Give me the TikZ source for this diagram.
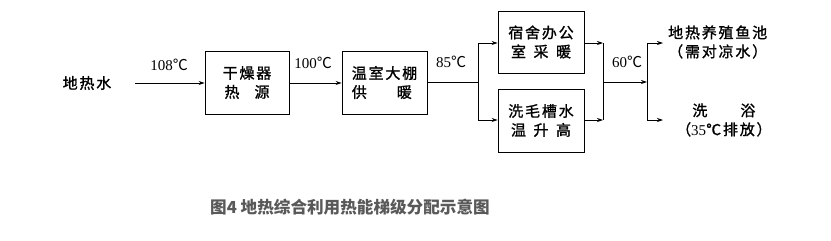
\documentclass[tikz,border=0pt]{standalone}
\usepackage{fontspec}
\setmainfont{Liberation Serif}
\newfontfamily\cjk[LetterSpace=12,FakeBold=1.2]{Noto Sans CJK SC}
\newfontfamily\cjkcap{Noto Sans CJK SC}
\usetikzlibrary{arrows.meta}
\begin{document}
\begin{tikzpicture}[x=1pt,y=-1pt,
  box/.style={draw,line width=0.9pt,minimum width=#1,minimum height=62pt,inner sep=0pt,align=center,font=\cjk\fontsize{15}{19}\selectfont},
  lab/.style={font=\cjk\fontsize{15}{19}\selectfont,align=center,inner sep=0pt},
  temp/.style={font=\fontsize{15}{18}\selectfont,inner sep=0pt},
  ln/.style={line width=0.8pt},
  arr/.style={ln,-{Stealth[length=6pt,width=4pt]}}]
\useasboundingbox (0,0) rectangle (831,241);
\node[lab] (src) at (87,83) {地热水};
\node[box=84pt,minimum height=63pt] (b1) at (247,82.5) {干燥器\\\makebox[3em][s]{热\hfill 源}};
\node[box=85pt,minimum height=63pt,align=left] (b2) at (384.5,82.5) {温室大棚\\\makebox[4em][s]{供\hfill 暖}};
\node[box=86pt] (b3) at (541,42) {宿舍办公\\\makebox[4em][s]{室\hfill 采\hfill 暖}};
\node[box=86pt,minimum height=63pt] (b4) at (541,120.5) {洗毛槽水\\\makebox[4em][s]{温\hfill 升\hfill 高}};
\coordinate (s1) at (478,82);
\coordinate (s1t) at (478,43);
\coordinate (s1b) at (478,120);
\coordinate (m1t) at (603,43);
\coordinate (m1b) at (603,120);
\coordinate (m1) at (603,82);
\coordinate (s2) at (647,82);
\coordinate (s2t) at (647,43);
\coordinate (s2b) at (647,120);
\coordinate (e1) at (663,43);
\coordinate (e2) at (663,120);
\node[lab,anchor=west] (o1) at (668,42) {地热养殖鱼池\\（需对凉水）};
\node[lab,anchor=west] (o2) at (676,120) {\makebox[4.2em][s]{洗\hfill 浴}\\（{\fontsize{15}{18}\fontspec{Liberation Serif}35}℃排放）};
\node[temp] (t1) at (169,65) {108{\cjkcap ℃}};
\node[temp] (t2) at (313,63) {100{\cjkcap ℃}};
\node[temp] (t3) at (451,62) {85{\cjkcap ℃}};
\node[temp] (t4) at (627,62) {60{\cjkcap ℃}};
\draw[arr] (135,83) -- (b1.west |- 0,83);
\draw[arr] (b1.east |- 0,83) -- (b2.west |- 0,83);
\draw[ln] (b2.east |- s1) -- (s1);
\draw[ln] (s1t) -- (s1b);
\draw[arr] (s1t) -- (b3.west |- s1t);
\draw[arr] (s1b) -- (b4.west |- s1b);
\draw[arr] (b3.east |- m1t) -- (m1t);
\draw[arr] (b4.east |- m1b) -- (m1b);
\draw[ln] (m1t) -- (m1b);
\draw[arr] (m1) -- (s2);
\draw[ln] (s2t) -- (s2b);
\draw[arr] (s2t) -- (e1);
\draw[arr] (s2b) -- (e2);
\node[font=\cjkcap\bfseries\fontsize{16.6}{19}\selectfont,text=black!65,anchor=west,inner sep=0pt] (cap) at (210,207) {图4 地热综合利用热能梯级分配示意图};
\end{tikzpicture}
\end{document}
